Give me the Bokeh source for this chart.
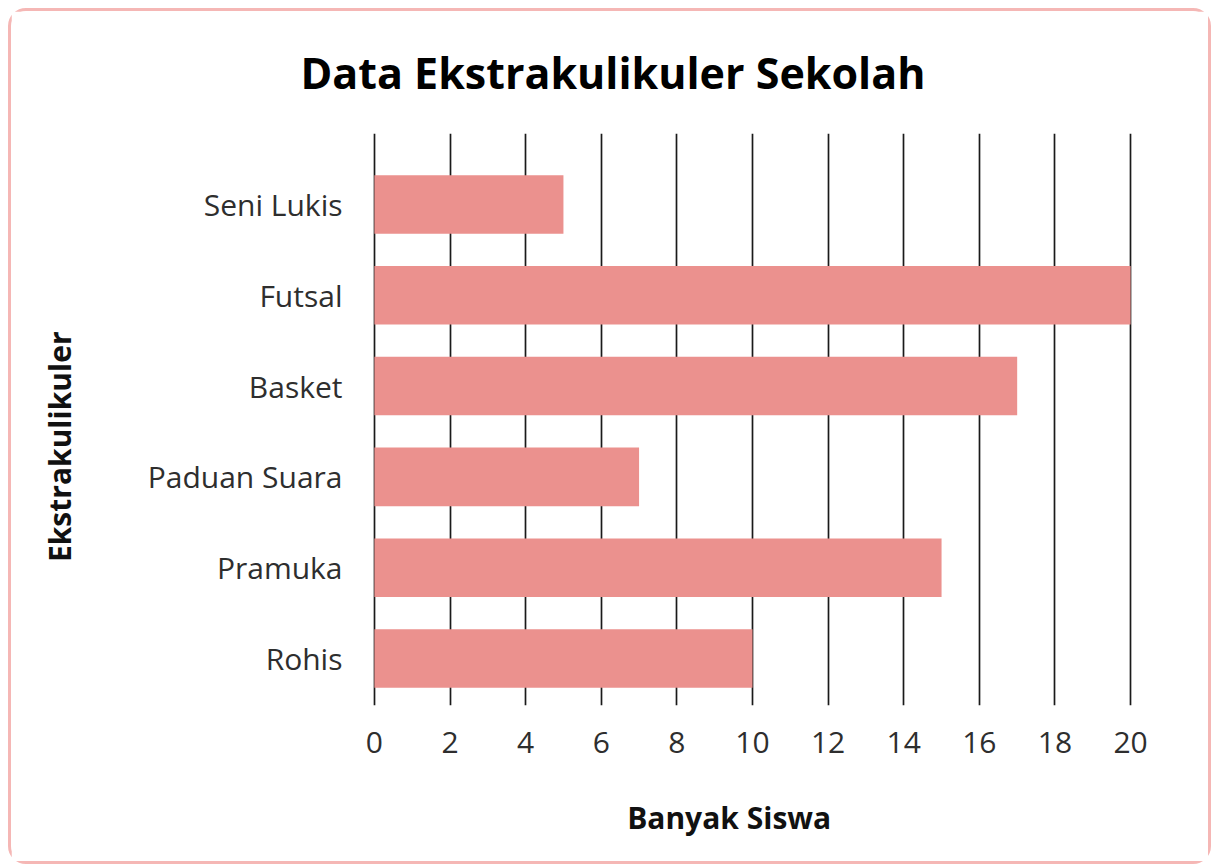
from bokeh.plotting import figure
from bokeh.models import Range1d, FixedTicker, Title
from bokeh.embed import file_html
from bokeh.resources import INLINE

categories = ["Rohis", "Pramuka", "Paduan Suara", "Basket", "Futsal", "Seni Lukis"]
values = [10, 15, 7, 17, 20, 5]
x_ticks = [0, 2, 4, 6, 8, 10, 12, 14, 16, 18, 20]

title_text = "Data Ekstrakulikuler Sekolah"
x_title = "Banyak Siswa"
y_title = "Ekstrakulikuler"

FONT = "Open Sans"
NBSP = "\u00a0"
positions = list(range(len(categories)))

p = figure(width=1197, height=850, output_backend="svg", toolbar_location=None,
           x_range=Range1d(-0.05, 20.05), y_range=Range1d(-0.518, 5.782),
           min_border_left=361, min_border_right=82, min_border_top=122, min_border_bottom=162)

p.hbar(y=positions, right=values, left=0, height=0.645, fill_color="#eb918e", line_color=None)

p.background_fill_color = "white"
p.border_fill_color = "white"
p.outline_line_color = None

p.title = Title(text=title_text, align="left", offset=-72, vertical_align="top", standoff=59,
                text_font=FONT, text_font_style="bold", text_font_size="43px", text_color="#000000")

p.xgrid.ticker = FixedTicker(ticks=x_ticks)
p.xgrid.grid_line_color = "#1a1a1a"
p.xgrid.grid_line_width = 1.7
p.ygrid.grid_line_color = None
p.xgrid.level = "underlay"

p.xaxis.ticker = FixedTicker(ticks=x_ticks)
p.yaxis.ticker = FixedTicker(ticks=positions)
p.yaxis.major_label_overrides = {i: c for i, c in enumerate(categories)}
for ax in (p.xaxis, p.yaxis):
    ax.axis_line_color = None
    ax.major_tick_line_color = None
    ax.minor_tick_line_color = None
    ax.major_tick_out = 0
    ax.major_tick_in = 0
    ax.minor_tick_out = 0
    ax.minor_tick_in = 0
    ax.major_label_text_font = FONT
    ax.major_label_text_font_size = "30px"
    ax.major_label_text_color = "#2e2e2e"
    ax.axis_label_text_font = FONT
    ax.axis_label_text_font_style = "bold"
    ax.axis_label_text_font_size = "30px"
    ax.axis_label_text_color = "#111111"
p.xaxis.major_label_standoff = 26
p.yaxis.major_label_standoff = 30

# trailing non-breaking spaces shift the centred titles to where the reference has them
p.xaxis.axis_label = x_title + NBSP * 6
p.xaxis.axis_label_standoff = 41
p.yaxis.axis_label = y_title + NBSP * 7
p.yaxis.axis_label_standoff = 65

p.styles = {"margin": "8px 0 0 8px", "border": "3px solid #f5b7b5",
            "border-radius": "18px", "box-sizing": "content-box"}

open("out.html", "w").write(file_html(p, INLINE))
